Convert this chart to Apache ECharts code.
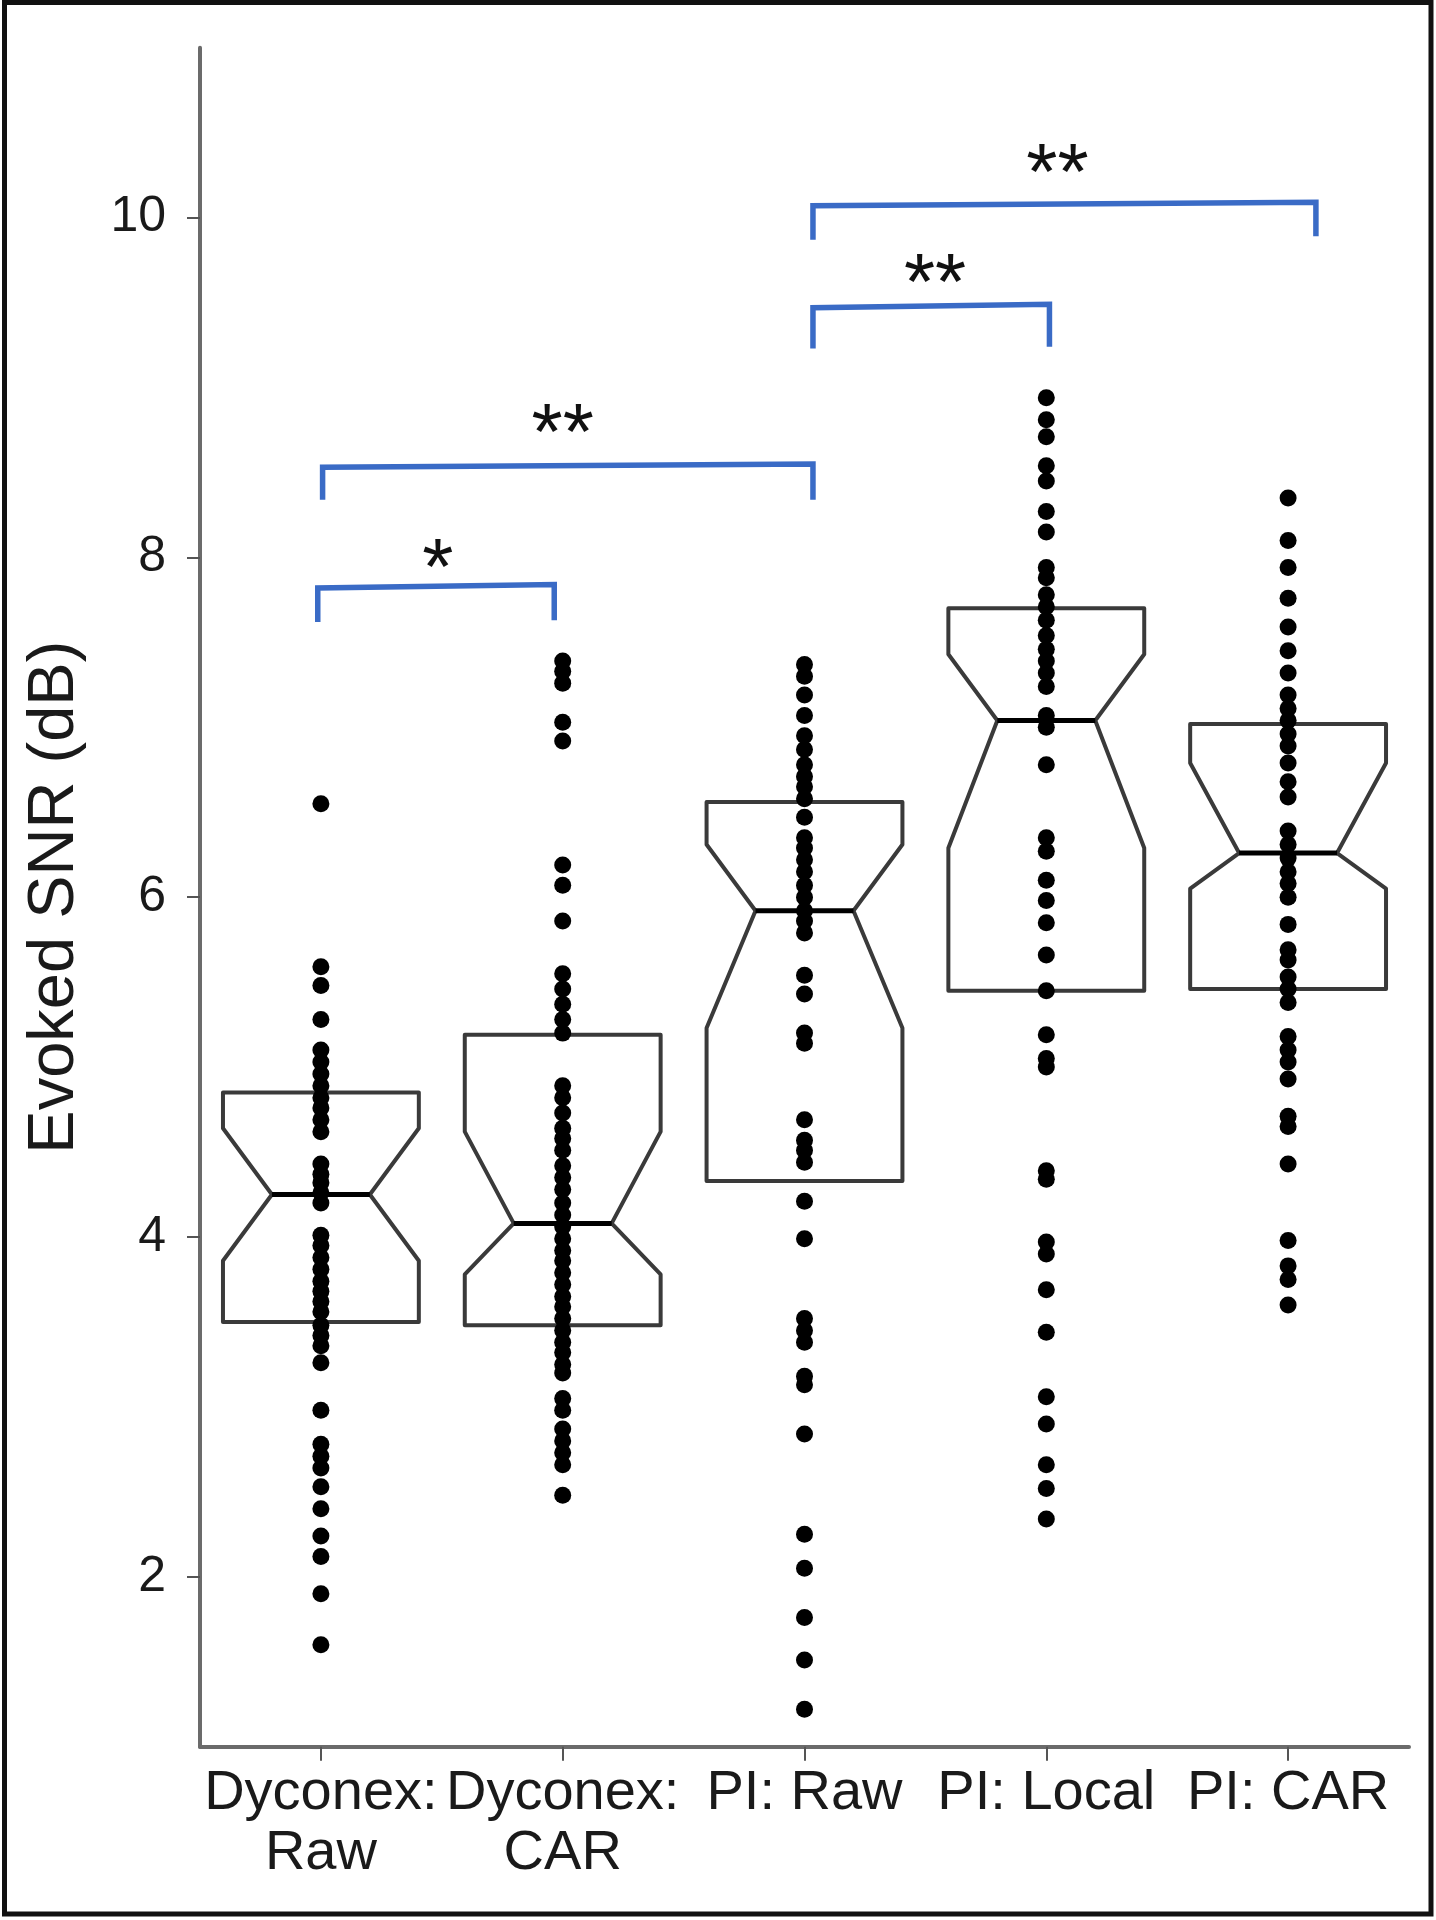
<!DOCTYPE html>
<html>
<head>
<meta charset="utf-8">
<script src="https://cdn.jsdelivr.net/npm/echarts@6/dist/echarts.min.js"></script>
<style>
html,body{margin:0;padding:0;background:#fff;}
#chart{width:1436px;height:1920px;}
</style>
</head>
<body>
<div id="chart"></div>
<script>
// ---------- data ----------
const categories = ['Dyconex:\nRaw', 'Dyconex:\nCAR', 'PI: Raw', 'PI: Local', 'PI: CAR'];
const yTickValues = [2, 4, 6, 8, 10];

const dyconexRaw = [6.55, 5.59, 5.48, 5.28, 5.10, 5.03, 4.96, 4.89, 4.82, 4.76, 4.69, 4.62, 4.43, 4.37, 4.32, 4.26, 4.20, 4.01, 3.95, 3.88, 3.81, 3.74, 3.68, 3.62, 3.56, 3.48, 3.42, 3.36, 3.26, 2.98, 2.78, 2.71, 2.64, 2.53, 2.40, 2.24, 2.12, 1.90, 1.60];
const dyconexCar = [7.39, 7.33, 7.26, 7.03, 6.92, 6.19, 6.07, 5.86, 5.55, 5.46, 5.37, 5.28, 5.20, 4.89, 4.82, 4.73, 4.64, 4.58, 4.51, 4.42, 4.35, 4.28, 4.20, 4.13, 4.06, 3.99, 3.92, 3.86, 3.79, 3.72, 3.65, 3.59, 3.52, 3.45, 3.38, 3.32, 3.25, 3.20, 3.05, 2.98, 2.87, 2.80, 2.73, 2.66, 2.48];
const piRaw = [7.37, 7.30, 7.19, 7.07, 6.95, 6.87, 6.78, 6.71, 6.65, 6.58, 6.47, 6.35, 6.29, 6.22, 6.15, 6.07, 6.00, 5.92, 5.86, 5.79, 5.54, 5.43, 5.20, 5.14, 4.69, 4.57, 4.51, 4.44, 4.21, 3.99, 3.52, 3.45, 3.38, 3.18, 3.13, 2.84, 2.25, 2.05, 1.76, 1.51, 1.22];
const piLocal = [8.94, 8.81, 8.71, 8.54, 8.45, 8.27, 8.15, 7.94, 7.88, 7.78, 7.71, 7.63, 7.54, 7.46, 7.39, 7.32, 7.24, 7.07, 7.00, 6.78, 6.35, 6.27, 6.10, 5.98, 5.85, 5.66, 5.45, 5.19, 5.05, 5.00, 4.39, 4.34, 3.97, 3.90, 3.69, 3.44, 3.06, 2.90, 2.66, 2.52, 2.34];
const piCar = [8.35, 8.10, 7.94, 7.76, 7.59, 7.45, 7.32, 7.19, 7.11, 7.04, 6.96, 6.89, 6.79, 6.68, 6.59, 6.39, 6.31, 6.23, 6.15, 6.08, 6.00, 5.84, 5.69, 5.63, 5.53, 5.46, 5.38, 5.18, 5.10, 5.03, 4.93, 4.71, 4.65, 4.43, 3.98, 3.83, 3.75, 3.60];

// notched box statistics per category
const q1 = [3.50, 3.48, 4.33, 5.45, 5.46];
const notchLow = [3.86, 3.78, 5.23, 6.29, 6.05];
const median = [4.25, 4.08, 5.92, 7.04, 6.26];
const notchHigh = [4.64, 4.62, 6.31, 7.43, 6.79];
const q3 = [4.85, 5.19, 6.56, 7.70, 7.02];

// significance brackets (x in category units, y in dB)
const bracketX1 = [-0.013, 0.007, 2.035, 2.035];
const bracketX2 = [0.965, 2.035, 3.013, 4.115];
const bracketTopLeft = [7.82, 8.53, 9.47, 10.07];
const bracketTopRight = [7.84, 8.55, 9.49, 10.09];
const bracketFootLeft = [7.62, 8.34, 9.23, 9.87];
const bracketFootRight = [7.63, 8.34, 9.24, 9.89];
const starX = [0.484, 1.0, 2.54, 3.046];
const starY = [8.02, 8.82, 9.70, 10.35];
const starText = ['*', '**', '**', '**'];

// ---------- chart ----------
const FONT = '"Liberation Sans", Arial, Helvetica, sans-serif';
const groups = [dyconexRaw, dyconexCar, piRaw, piLocal, piCar];
const pointData = [];
groups.forEach((g, i) => g.forEach(v => pointData.push([i, v])));
const boxData = categories.map((c, i) => [i, q1[i], notchLow[i], median[i], notchHigh[i], q3[i]]);
const bracketData = bracketX1.map((x, i) => [x, bracketX2[i], bracketTopLeft[i], bracketTopRight[i], bracketFootLeft[i], bracketFootRight[i]]);
const starData = starX.map((x, i) => [x, starY[i], starText[i]]);

const chart = echarts.init(document.getElementById('chart'), null, {renderer: 'canvas'});
const STAR_SIZE = 80;

const option = {
  animation: false,
  backgroundColor: '#fff',
  grid: {left: 200, right: 27, top: 47.7, bottom: 173.3, containLabel: false},
  graphic: [{
    type: 'rect', silent: true, z: 100,
    shape: {x: 4.5, y: 2.5, width: 1426.5, height: 1911.5},
    style: {fill: null, stroke: '#111', lineWidth: 5}
  }],
  xAxis: [{
    type: 'category', data: categories, boundaryGap: true,
    axisLine: {show: true, onZero: false, lineStyle: {color: '#6b6b6b', width: 4}},
    axisTick: {show: true, alignWithLabel: true, length: 14, lineStyle: {color: '#555', width: 2}},
    axisLabel: {interval: 0, margin: 17, fontSize: 56, fontFamily: FONT, color: '#1a1a1a', lineHeight: 60},
    splitLine: {show: false}
  }, {
    type: 'value', min: -0.5, max: 4.5, show: false,
    axisLine: {onZero: false}
  }],
  yAxis: {
    type: 'value', min: 1, max: 11,
    name: 'Evoked SNR (dB)', nameLocation: 'middle', nameRotate: 90, nameGap: 112,
    nameTextStyle: {fontSize: 65, fontFamily: FONT, color: '#1a1a1a'},
    axisLine: {show: true, onZero: false, lineStyle: {color: '#6b6b6b', width: 4}},
    axisTick: {show: true, length: 13, customValues: yTickValues, lineStyle: {color: '#555', width: 2}},
    axisLabel: {customValues: yTickValues, margin: 34, fontSize: 50, fontFamily: FONT, color: '#1a1a1a'},
    splitLine: {show: false}
  },
  series: [{
    type: 'custom', name: 'box', xAxisIndex: 0, z: 2,
    data: boxData,
    encode: {x: 0, y: [1, 2, 3, 4, 5]},
    renderItem: function (params, api) {
      const i = api.value(0);
      const cx = api.coord([i, api.value(3)])[0];
      const bw = api.size([1, 0])[0] * 0.81;
      const L = cx - bw / 2, R = cx + bw / 2, ins = bw * 0.25;
      const y = k => api.coord([i, api.value(k)])[1];
      const yq1 = y(1), ynl = y(2), ym = y(3), ynh = y(4), yq3 = y(5);
      return {
        type: 'group', children: [{
          type: 'polygon',
          shape: {points: [[L, yq3], [L, ynh], [L + ins, ym], [L, ynl], [L, yq1], [R, yq1], [R, ynl], [R - ins, ym], [R, ynh], [R, yq3]]},
          style: {fill: '#fff', stroke: '#3a3a3a', lineWidth: 4, lineJoin: 'round'}
        }, {
          type: 'line',
          shape: {x1: L + ins, y1: ym, x2: R - ins, y2: ym},
          style: {stroke: '#000', lineWidth: 5}
        }]
      };
    }
  }, {
    type: 'scatter', name: 'points', xAxisIndex: 0, z: 3,
    data: pointData, symbol: 'circle', symbolSize: 17,
    itemStyle: {color: '#000', opacity: 1}
  }, {
    type: 'custom', name: 'brackets', xAxisIndex: 1, z: 4,
    data: bracketData,
    encode: {x: [0, 1], y: [2, 3, 4, 5]},
    renderItem: function (params, api) {
      const a = api.coord([api.value(0), api.value(4)]);
      const b = api.coord([api.value(0), api.value(2)]);
      const c = api.coord([api.value(1), api.value(3)]);
      const d = api.coord([api.value(1), api.value(5)]);
      return {
        type: 'polyline', shape: {points: [a, b, c, d]},
        style: {stroke: '#3a6bc6', lineWidth: 5.5, fill: null, lineJoin: 'miter'}
      };
    }
  }, {
    type: 'custom', name: 'stars', xAxisIndex: 1, z: 5,
    data: starData,
    encode: {x: 0, y: 1},
    renderItem: function (params, api) {
      const p = api.coord([api.value(0), api.value(1)]);
      return {
        type: 'text', x: p[0], y: p[1] + STAR_SIZE * 0.23,
        style: {text: starText[params.dataIndex], fontSize: STAR_SIZE, fontFamily: FONT, fill: '#111', align: 'center', verticalAlign: 'middle'}
      };
    }
  }]
};
chart.setOption(option);
</script>
</body>
</html>
